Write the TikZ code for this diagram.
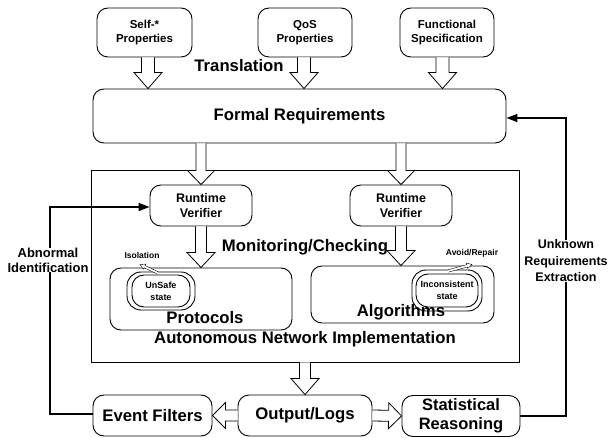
\documentclass[tikz,border=0pt]{standalone}
\usepackage{fontspec}
\setmainfont{Liberation Sans}
\usetikzlibrary{calc,arrows.meta}
\newcommand\hollowarrow[6][]{%
  \draw[hollow,#1] let \p1=(#2), \p2=(#3), \n1={atan2(\y2-\y1,\x2-\x1)}, \n2={veclen(\x2-\x1,\y2-\y1)} in
  [shift={(\p1)}, rotate=\n1]
  (0pt,-#4pt) -- ({\n2*1pt-#6pt},-#4pt) -- ({\n2*1pt-#6pt},-#5pt) -- ({\n2*1pt},0pt)
  -- ({\n2*1pt-#6pt},#5pt) -- ({\n2*1pt-#6pt},#4pt) -- (0pt,#4pt);}
\tikzset{
  box/.style={draw, rounded corners=11pt, line width=0.9pt, align=center, inner sep=0pt},
  topbox/.style={box, font=\bfseries\fontsize{11.5}{13.5}\selectfont},
  bigtxt/.style={font=\bfseries\fontsize{16.7}{18}\selectfont, inner sep=0pt},
  midtxt/.style={font=\bfseries\fontsize{13}{15}\selectfont, align=center, inner sep=0pt},
  smalltxt/.style={font=\bfseries\fontsize{8.5}{10}\selectfont, align=center, inner sep=0pt},
  hollow/.style={draw, fill=white, line width=0.8pt, line join=miter},
  thinhollow/.style={line width=0.4pt},
  feedback/.style={draw, line width=1.6pt, -{Triangle[length=11pt,width=8pt]}},
  state/.style={draw, line width=0.9pt, rounded corners=#1},
}
\begin{document}
\begin{tikzpicture}[x=1pt,y=-1pt]
\useasboundingbox (0,0) rectangle (610,438);
% top boxes
\node[topbox, minimum width=95, minimum height=49] (self) at (144.5,32.5) {Self-*\\Properties};
\node[topbox, minimum width=94, minimum height=49] (qos) at (305,32.5) {QoS\\Properties};
\node[topbox, minimum width=94, minimum height=49] (func) at (447,32.5) {Functional\\Specification};
\node[bigtxt] (trans) at (239,66) {Translation};
% formal requirements
\node[box, minimum width=413, minimum height=54, bigtxt] (fr) at (299.5,116) {Formal Requirements};
% top arrows
\coordinate (a1) at ($(self.south)+(3.5,0)$);
\coordinate (a2) at ($(qos.south)+(-1,0)$);
\coordinate (a3) at ($(func.south)+(-4.5,0)$);
\hollowarrow{a1}{fr.north -| a1}{6.5}{14}{16}
\hollowarrow{a2}{fr.north -| a2}{6.5}{14}{16}
\hollowarrow{a3}{fr.north -| a3}{6.5}{14}{16}
% implementation frame
\node[draw, line width=0.9pt, minimum width=428, minimum height=192, inner sep=0pt] (impl) at (305,266) {};
% runtime verifiers
\node[box, minimum width=102, minimum height=41, font=\bfseries\fontsize{12.5}{14.5}\selectfont] (rv1) at (201,205.5) {Runtime\\Verifier};
\node[box, minimum width=102, minimum height=41, font=\bfseries\fontsize{12.5}{14.5}\selectfont] (rv2) at (401,205.5) {Runtime\\Verifier};
% protocols / algorithms
\node[box, minimum width=182, minimum height=62] (proto) at (201,299) {};
\node[box, minimum width=183, minimum height=57] (algo) at (402.5,294.5) {};
\hollowarrow{fr.south -| rv1}{rv1.north}{5}{13.5}{14}
\hollowarrow{fr.south -| rv2}{rv2.north}{5}{13.5}{14}
\hollowarrow{rv1.south}{proto.north -| rv1}{5.5}{14}{15}
\hollowarrow{rv2.south}{algo.north -| rv2}{5.5}{14}{15}
\node[bigtxt] (mon) at (305,247) {Monitoring/Checking};
\node[bigtxt] (protot) at (205,318) {Protocols};
\node[bigtxt] (algot) at (401,312) {Algorithms};
\node[bigtxt] (implt) at (305,339) {Autonomous Network Implementation};
% states
\node[state=14pt, minimum width=68, minimum height=38, inner sep=0pt] (uso) at (161,291) {};
\node[state=12pt, minimum width=58, minimum height=32, inner sep=0pt, smalltxt, font=\bfseries\fontsize{9}{12}\selectfont] (usi) at (161,291) {UnSafe\\state};
\node[state=14pt, minimum width=70, minimum height=41, inner sep=0pt] (ico) at (447,290.5) {};
\node[state=12pt, minimum width=62, minimum height=33, inner sep=0pt, smalltxt, font=\bfseries\fontsize{9}{12}\selectfont] (ici) at (447,290.5) {Inconsistent\\state};
\node[smalltxt] (iso) at (142,255) {Isolation};
\node[smalltxt] (avr) at (472,253) {Avoid/Repair};
\coordinate (isoS) at (158,273);
\coordinate (isoE) at (140,264.5);
\coordinate (avrS) at (448,271);
\coordinate (avrE) at (472,264.5);
\hollowarrow[thinhollow]{isoS}{isoE}{1.2}{2.8}{5}
\hollowarrow[thinhollow]{avrS}{avrE}{1.2}{2.8}{5}
% bottom boxes
\node[box, minimum width=119, minimum height=41, bigtxt] (ev) at (152.5,415.5) {Event Filters};
\node[box, minimum width=134, minimum height=41, bigtxt] (out) at (305,415.5) {Output/Logs};
\node[box, minimum width=118, minimum height=41, bigtxt, align=center, font=\bfseries\fontsize{16.5}{19}\selectfont] (stat) at (461,416) {Statistical\\Reasoning};
\hollowarrow{impl.south -| out}{out.north}{5.5}{14}{16}
\hollowarrow{out.west}{ev.east}{5.5}{13}{13}
\hollowarrow{out.east}{stat.west}{5.5}{13}{13}
% feedback loops
\coordinate (lb) at (50,414);
\coordinate (lt) at (50,207);
\draw[feedback] (ev.west |- lb) -- (lb) -- (lt) -- (lt -| rv1.west);
\coordinate (rb) at (566,416);
\coordinate (rt) at (566,118);
\draw[feedback] (stat.east |- rb) -- (rb) -- (rt) -- (rt -| fr.east);
\node[midtxt, fill=white] (abn) at (48,260) {Abnormal\\Identification};
\node[midtxt, fill=white, font=\bfseries\fontsize{12.5}{16.5}\selectfont] (unk) at (566,261) {Unknown\\Requirements\\Extraction};
\end{tikzpicture}
\end{document}
